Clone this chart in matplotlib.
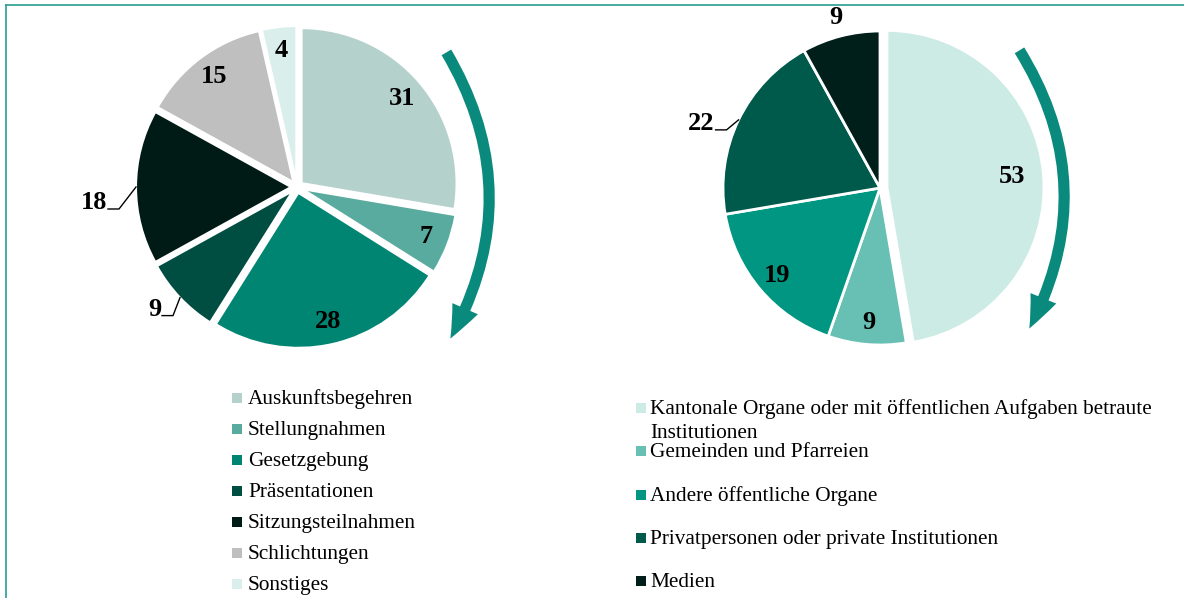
import matplotlib
matplotlib.use('Agg')
import matplotlib.pyplot as plt
import numpy as np
from matplotlib.patches import FancyArrowPatch, Rectangle, ArrowStyle
from matplotlib.lines import Line2D

# ---------------- data ----------------
left_labels = ['Auskunftsbegehren', 'Stellungnahmen', 'Gesetzgebung', 'Präsentationen',
               'Sitzungsteilnahmen', 'Schlichtungen', 'Sonstiges']
left_values = [31, 7, 28, 9, 18, 15, 4]
left_colors = ['#b4d1cc', '#5aab9f', '#008572', '#004d42', '#001a15', '#bfbfbf', '#daeeeb']

right_labels = ['Kantonale Organe oder mit öffentlichen Aufgaben betraute\nInstitutionen',
                'Gemeinden und Pfarreien', 'Andere öffentliche Organe',
                'Privatpersonen oder private Institutionen', 'Medien']
right_values = [53, 9, 19, 22, 9]
right_colors = ['#cdebe5', '#68c0b4', '#009682', '#005a4c', '#001f1a']

# ---------------- figure ----------------
plt.rcParams['font.family'] = ['Liberation Serif', 'DejaVu Serif']
W, H = 1184, 598
fig = plt.figure(figsize=(W / 100, H / 100), dpi=100)
ax = fig.add_axes([0, 0, 1, 1])


def Y(y):
    return H - y


ARROW_COL = '#0a8a7c'

wl, _ = ax.pie(left_values, colors=left_colors, startangle=90, counterclock=False,
               center=(297, Y(187)), radius=155, explode=[6] * len(left_values),
               wedgeprops=dict(edgecolor='white', linewidth=1.5))
wr, _ = ax.pie(right_values, colors=right_colors, startangle=90, counterclock=False,
               center=(880, Y(188)), radius=157, explode=[7, 0, 0, 0, 0],
               wedgeprops=dict(edgecolor='white', linewidth=2))

ax.set_xlim(0, W)
ax.set_ylim(0, H)
ax.set_aspect('auto')
ax.set_axis_off()


def wedge_point(w, frac):
    mid = np.deg2rad((w.theta1 + w.theta2) / 2)
    cx, cy = w.center
    return cx + frac * w.r * np.cos(mid), cy + frac * w.r * np.sin(mid)


LBL = dict(fontsize=19, fontweight='bold', color='black')


def label_pie(wedges, values, inner_frac, leaders, outer_frac):
    for i, (w, v) in enumerate(zip(wedges, values)):
        if i in leaders:
            ex, ey = wedge_point(w, 1.0)
            dx, dy = leaders[i]
            bx, by = ex + dx, ey + dy
            ax.add_line(Line2D([bx - 11, bx, ex], [by, by, ey], color='black', lw=1))
            ax.text(bx - 12, by, str(v), ha='right', va='baseline', **LBL)
        elif i in outer_frac:
            x, y = wedge_point(w, outer_frac[i])
            ax.text(x, y, str(v), ha='center', va='center', **LBL)
        else:
            x, y = wedge_point(w, inner_frac.get(i, inner_frac['default']))
            ax.text(x, y, str(v), ha='center', va='center', **LBL)


label_pie(wl, left_values, {'default': 0.85}, {3: (-7, -18), 4: (-17, -22)}, {})
label_pie(wr, right_values, {'default': 0.86, 0: 0.80}, {3: (-12, -10)}, {4: 1.12})

# curved arrows
for (x0, y0), (x1, y1) in [((445, 50), (449, 341)), ((1018, 48), (1028, 331))]:
    arr = FancyArrowPatch((x0, Y(y0)), (x1, Y(y1)),
                          connectionstyle='arc3,rad=-0.29',
                          arrowstyle=ArrowStyle('Simple', head_length=2.4, head_width=2.0,
                                                tail_width=0.8),
                          mutation_scale=10, color=ARROW_COL, lw=0)
    ax.add_patch(arr)

# legends
LEG = dict(fontsize=15.3, color='black')
for i, (lab, col) in enumerate(zip(left_labels, left_colors)):
    yc = 398 + 31 * i
    ax.add_patch(Rectangle((232, Y(yc) - 5), 10, 10, facecolor=col, edgecolor='none'))
    ax.text(248, Y(yc + 6), lab, ha='left', va='baseline', **LEG)

for i, (lab, col) in enumerate(zip(right_labels, right_colors)):
    yc = 408 + 43.3 * i
    ax.add_patch(Rectangle((636, Y(yc) - 5), 10, 10, facecolor=col, edgecolor='none'))
    for k, line in enumerate(lab.split('\n')):
        ax.text(650, Y(yc + 6 + 24 * k), line, ha='left', va='baseline', **LEG)

# frame
FRAME = '#2a9d92'
fig.add_artist(Line2D([6 / W, 1], [Y(5) / H, Y(5) / H], color=FRAME, lw=1.2,
                      transform=fig.transFigure))
fig.add_artist(Line2D([6 / W, 6 / W], [Y(5) / H, 0], color=FRAME, lw=1.2,
                      transform=fig.transFigure))

fig.savefig('out.png', dpi=100, facecolor='white')
